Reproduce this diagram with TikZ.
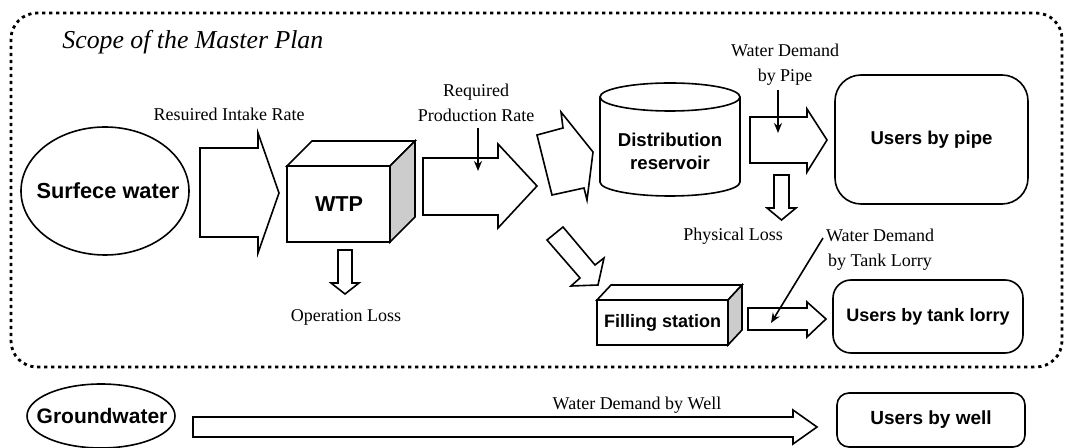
\documentclass[tikz,border=0pt]{standalone}
\usepackage{fontspec}
\setmainfont{Liberation Serif}
\setsansfont{Liberation Sans}
\usetikzlibrary{arrows.meta}
\tikzset{
  outline/.style={draw=black, line width=0.8pt, line join=miter},
  blockarrow/.style={draw=black, fill=white, line width=0.8pt, line join=miter},
  sideface/.style={fill=black!20},
  unit/.style={font=\sffamily\bfseries\fontsize{#1}{11.5}\selectfont, align=center, inner sep=0pt},
  unit/.default=9.3,
  lbl/.style={font=\fontsize{9}{12.5}\selectfont, align=center, inner sep=0pt},
  userbox/.style={draw, line width=0.8pt, rounded corners=#1, unit},
  pointer/.style={-{Stealth[length=5pt,width=4pt]}, line width=0.8pt},
  scopeline/.style={line width=1.4pt, dash pattern=on 1.6pt off 1.9pt, rounded corners=13pt},
}
\begin{document}
\begin{tikzpicture}[x=0.5pt,y=-0.5pt]
\path[use as bounding box] (0,0) rectangle (1065,448);

% scope of the master plan (dotted frame)
\draw[scopeline] (11,13) rectangle (1062,367);
\node[font=\itshape\fontsize{12.9}{15}\selectfont, anchor=base west, inner sep=0pt] (scope) at (62,49) {Scope of the Master Plan};

% sources
\node[unit=10.9] (sw) at (108,191) {Surfece water};
\draw[outline] (105,191) ellipse [x radius=42pt, y radius=32pt];
\node[unit=10.5] (gw) at (102,416) {Groundwater};
\draw[outline] (101,416) ellipse [x radius=37pt, y radius=16pt];

% intake flow
\draw[blockarrow] (200,148) -- (258,148) -- (258,133) -- (279,193) -- (258,253) -- (258,237) -- (200,237) -- cycle;
\node[lbl] (intake) at (229,114) {Resuired Intake Rate};

% water treatment plant (box)
\draw[outline, fill=white] (287,166) -- (312,141) -- (415,141) -- (390,166) -- cycle;
\draw[outline, sideface] (390,166) -- (415,141) -- (415,217) -- (390,242) -- cycle;
\draw[outline, fill=white] (287,166) rectangle (390,242);
\node[unit=10.8] (wtp) at (339,204) {WTP};

% operation loss
\draw[blockarrow] (338,250) -- (352,250) -- (352,283) -- (359,283) -- (345,294) -- (331,283) -- (338,283) -- cycle;
\node[lbl] (oploss) at (346,317) {Operation Loss};

% production flow
\draw[blockarrow] (423,158) -- (498,158) -- (498,144) -- (537,186) -- (498,228) -- (498,215) -- (423,215) -- cycle;
\node[lbl] (prod) at (476,103) {Required\\Production Rate};
\coordinate (prodA) at (478,128);
\coordinate (prodB) at (478,171);
\draw[pointer] (prodA) -- (prodB);

% split towards reservoir and filling station
\draw[blockarrow] (537,135) -- (563,128) -- (561,112) -- (593,152) -- (587,200) -- (584,188) -- (552,195) -- cycle;
\draw[blockarrow] (547,240) -- (563,227) -- (595,265) -- (604,258) -- (598,285) -- (571,286) -- (580,278) -- cycle;

% distribution reservoir (cylinder)
\draw[outline, fill=white] (600,97) -- (600,182) arc[start angle=180, end angle=360, x radius=35pt, y radius=7pt] -- (740,97);
\draw[outline] (670,97) ellipse [x radius=35pt, y radius=7pt];
\node[unit] (res) at (670,151) {Distribution\\reservoir};

% pipe supply
\draw[blockarrow] (750,117) -- (807,117) -- (807,109) -- (827,140) -- (807,172) -- (807,163) -- (750,163) -- cycle;
\node[lbl] (pipedem) at (785,65) {Water Demand\\by Pipe};
\coordinate (pipeA) at (778,90);
\coordinate (pipeB) at (778,133);
\draw[pointer] (pipeA) -- (pipeB);

% physical loss
\draw[blockarrow] (774,175) -- (789,175) -- (789,208) -- (796,208) -- (781.5,220) -- (767,208) -- (774,208) -- cycle;
\node[lbl] (physloss) at (733,236) {Physical Loss};

\node[userbox=13pt, minimum width=96.5pt, minimum height=64.5pt] (upipe) at (931.5,139.5) {Users by pipe};

% filling station (box)
\draw[outline, fill=white] (597,300) -- (611,285) -- (742,285) -- (728,300) -- cycle;
\draw[outline, sideface] (728,300) -- (742,285) -- (742,330) -- (728,345) -- cycle;
\draw[outline, fill=white] (597,300) rectangle (728,345);
\node[unit=9] (fill) at (662.5,323) {Filling station};

% tank lorry supply
\draw[blockarrow] (748,308) -- (807,308) -- (807,302) -- (826,319) -- (807,337) -- (807,330) -- (748,330) -- cycle;
\node[lbl] (tankdem) at (880,250) {Water Demand\\by Tank Lorry};
\coordinate (tankA) at (823,238);
\coordinate (tankB) at (771,323);
\draw[pointer] (tankA) -- (tankB);

\node[userbox=9pt, minimum width=95pt, minimum height=36.5pt, unit=9] (utank) at (928,316.5) {Users by tank lorry};

% well supply
\draw[blockarrow] (193,417) -- (793,417) -- (793,410) -- (817,427) -- (793,444) -- (793,437) -- (193,437) -- cycle;
\node[lbl] (welldem) at (637,405) {Water Demand by Well};
\node[userbox=6pt, minimum width=94pt, minimum height=27pt, unit=9.5] (uwell) at (931,420) {Users by well};
\end{tikzpicture}
\end{document}
